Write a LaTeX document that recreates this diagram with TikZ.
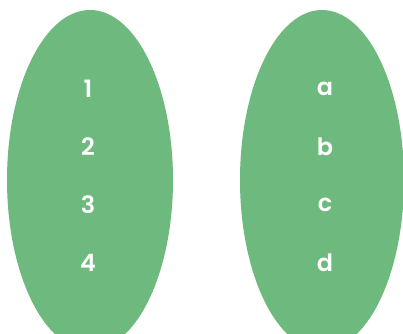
\documentclass[tikz,border=0pt]{standalone}
\usepackage{fontspec}
\setmainfont{Poppins}[UprightFont=* SemiBold, BoldFont=* Bold]
\usepackage{xcolor}
\definecolor{setgreen}{RGB}{110,186,126}

\begin{document}
\begin{tikzpicture}[x=0.025cm, y=0.025cm,
    elem/.style={text=white, font=\fontsize{17}{20}\selectfont, inner sep=0pt}]
      \useasboundingbox (0,0) rectangle (403,334);
      \clip (0,0) rectangle (403,334);

      % domain and codomain
      \fill[setgreen] (90,154) ellipse (83 and 170);
      \fill[setgreen] (322,154) ellipse (82 and 170);

      \foreach \lbl/\y [count=\i] in {1/245, 2/187, 3/129, 4/71}
        \node[elem] (x\i) at (88,\y) {\lbl};
      \foreach \lbl/\y [count=\i] in {a/245, b/187, c/129, d/71}
        \node[elem] (y\i) at (325,\y) {\lbl};
    \end{tikzpicture}
\end{document}
